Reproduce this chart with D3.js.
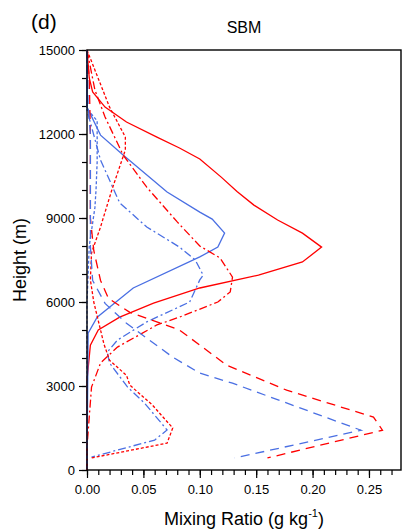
<!DOCTYPE html>
<html>
<head>
<meta charset="utf-8">
<script src="https://cdn.jsdelivr.net/npm/d3@7"></script>
<style>
body { margin: 0; background: #fff; }
text { font-family: "Liberation Sans", Arial, sans-serif; }
</style>
</head>
<body>
<svg id="chart" width="403" height="532"></svg>
<script>
// heights (m) and mixing ratios (g/kg)
var redSolidH = [15000,14000,13500,12960,12430,11890,11500,11110,10460,9950,9460,8930,8460,7960,7430,6960,6500,5960,5460,5000,4460,3210,0];
var redSolidV = [0,0.002,0.005,0.016,0.035,0.062,0.082,0.100,0.119,0.133,0.148,0.169,0.191,0.208,0.191,0.152,0.100,0.059,0.029,0.010,0.003,0,0];

var blueSolidH = [15000,12960,11960,11250,9930,9210,8960,8460,7960,7610,6500,5460,4890,0];
var blueSolidV = [0,0,0.012,0.032,0.071,0.100,0.111,0.122,0.116,0.100,0.041,0.009,0.001,0];

var redDashDotH = [15000,13570,12610,11250,10100,8860,8000,7570,6890,6360,6000,5460,5180,4390,3820,2960,820,0];
var redDashDotV = [0,0.007,0.016,0.032,0.053,0.080,0.100,0.118,0.129,0.127,0.116,0.082,0.062,0.027,0.012,0.004,0,0];

var blueDashDotH = [15000,12860,11070,9540,8680,7960,7500,6960,6790,6000,5290,4640,4210,3820,2960,2390,1430,1070,460];
var blueDashDotV = [0,0,0.012,0.029,0.053,0.082,0.096,0.103,0.100,0.091,0.053,0.027,0.018,0.020,0.036,0.051,0.071,0.060,0.004];

var redDotH = [15000,12960,11890,11430,10000,8680,7750,6790,6000,5000,4500,3920,3380,3030,2320,1500,960,430];
var redDotV = [0,0.020,0.034,0.034,0.022,0.012,0.004,0.003,0.006,0.012,0.015,0.020,0.035,0.038,0.058,0.076,0.071,0.004];

var blueDotH = [15000,12900,12470,11000,10000,9370,8000,7000,6000,0];
var blueDotV = [0,0,0.009,0.009,0.008,0.007,0.002,0.001,0,0];

var redDashH = [15000,14000,12000,10000,9000,7840,6770,6130,5630,5000,3740,2850,1890,1420,430];
var redDashV = [0,0.002,0.003,0.003,0.003,0.006,0.012,0.019,0.038,0.082,0.124,0.177,0.254,0.262,0.160];

var blueDashH = [15000,13000,12000,10000,8000,6770,5950,5240,4030,3460,3100,1420,430];
var blueDashV = [0,0.001,0.003,0.003,0.003,0.005,0.016,0.035,0.076,0.100,0.129,0.243,0.131];

var xTicks = [0, 0.05, 0.10, 0.15, 0.20, 0.25];
var yTicks = [0, 3000, 6000, 9000, 12000, 15000];

var red = "#ff0000", blue = "#4a6fe3";
var series = [
  {h: redSolidH, v: redSolidV, c: red, dash: null},
  {h: blueSolidH, v: blueSolidV, c: blue, dash: null},
  {h: redDashDotH, v: redDashDotV, c: red, dash: "8,3,2,3"},
  {h: blueDashDotH, v: blueDashDotV, c: blue, dash: "8,3,2,3"},
  {h: redDotH, v: redDotV, c: red, dash: "3,2"},
  {h: blueDotH, v: blueDotV, c: blue, dash: "3,2"},
  {h: redDashH, v: redDashV, c: red, dash: "9,6"},
  {h: blueDashH, v: blueDashV, c: blue, dash: "9,6"}
];

var svg = d3.select("#chart");
var x = d3.scaleLinear().domain([0, 0.2784]).range([87, 401]);
var y = d3.scaleLinear().domain([0, 15000]).range([470, 50]);

// minor ticks
svg.append("g").attr("transform", "translate(0,470)")
  .call(d3.axisBottom(x).tickValues(d3.range(0, 0.275, 0.01)).tickSize(5).tickFormat(""))
  .call(g => g.select(".domain").remove());
svg.append("g").attr("transform", "translate(87,0)")
  .call(d3.axisLeft(y).tickValues(d3.range(0, 15001, 1000)).tickSize(5).tickFormat(""))
  .call(g => g.select(".domain").remove());

var xAxis = svg.append("g").attr("transform", "translate(0,470)")
  .call(d3.axisBottom(x).tickValues(xTicks).tickSize(8).tickPadding(7).tickFormat(d3.format(".2f")));
xAxis.selectAll("text").attr("font-size", 13).attr("fill", "#000");
var yAxis = svg.append("g").attr("transform", "translate(87,0)")
  .call(d3.axisLeft(y).tickValues(yTicks).tickSize(8).tickPadding(4).tickFormat(d3.format("d")));
yAxis.selectAll("text").attr("font-size", 13).attr("fill", "#000");
svg.selectAll(".domain").remove();
svg.selectAll(".tick line").attr("stroke", "#000").attr("stroke-width", 1.2);

var line = d3.line().x(d => x(d[1])).y(d => y(d[0]));
series.forEach(function(s) {
  svg.append("path")
    .datum(d3.zip(s.h, s.v))
    .attr("d", line)
    .attr("fill", "none")
    .attr("stroke", s.c)
    .attr("stroke-width", 1.3)
    .attr("stroke-dasharray", s.dash);
});

// frame
svg.append("rect").attr("x", 87).attr("y", 50).attr("width", 314).attr("height", 420)
  .attr("fill", "none").attr("stroke", "#000").attr("stroke-width", 1.4);

svg.append("text").attr("x", 31).attr("y", 29).attr("font-size", 21).text("(d)");
svg.append("text").attr("x", 244).attr("y", 33).attr("font-size", 16).attr("text-anchor", "middle").text("SBM");
svg.append("text").attr("transform", "translate(26,260) rotate(-90)")
  .attr("font-size", 18).attr("text-anchor", "middle").text("Height (m)");
var xl = svg.append("text").attr("x", 244).attr("y", 525).attr("font-size", 18).attr("text-anchor", "middle");
xl.append("tspan").text("Mixing Ratio (g kg");
xl.append("tspan").attr("dy", -8).attr("font-size", 11).text("-1");
xl.append("tspan").attr("dy", 8).text(")");
</script>
</body>
</html>
